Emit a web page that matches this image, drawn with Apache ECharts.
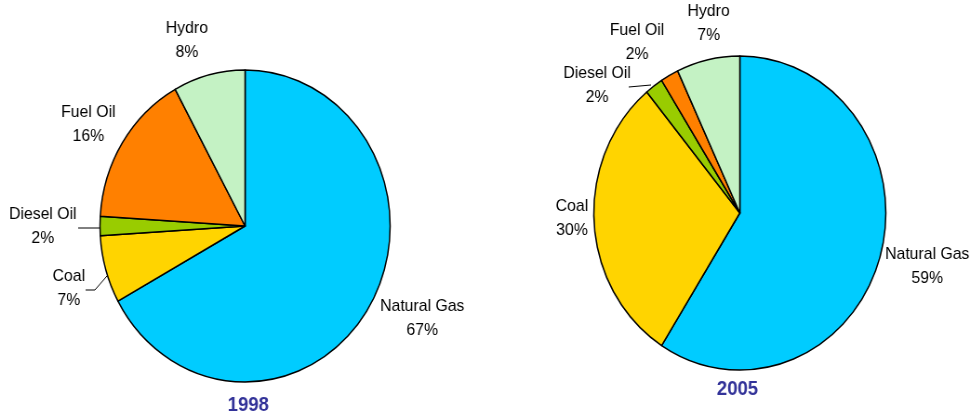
<!DOCTYPE html>
<html>
<head>
<meta charset="utf-8">
<script src="https://cdn.jsdelivr.net/npm/echarts@6/dist/echarts.min.js"></script>
<style>
  html, body { margin: 0; padding: 0; background: #fff; overflow: hidden; }
  #wrap { width: 971px; height: 418px; overflow: hidden; }
  /* the original pies are slightly squashed sideways, text included */
  #chart { width: 1044px; height: 418px; transform: scaleX(0.93); transform-origin: 0 0; }
</style>
</head>
<body>
<div id="wrap"><div id="chart"></div></div>
<script>
// data
const categories = ['Natural Gas', 'Coal', 'Diesel Oil', 'Fuel Oil', 'Hydro']
const share1998 = [67, 7, 2, 16, 8]
const share2005 = [59, 30, 2, 2, 7]
const years = ['1998', '2005']

const colors = ['#00CCFF', '#FFD400', '#99CC00', '#FF8000', '#C4F2C4']

// label placement (unscaled chart px), one entry per category
const labelPos1998 = [[454, 318], [74, 288], [46, 226], [95, 124], [201, 40]]
const labelPos2005 = [[997, 266], [615, 218], [642, 85], [685, 42], [762, 23]]
const leader1998 = {
  1: [[92, 290], [102, 290], [115, 276]],
  2: [[84, 228], [96, 228], [108, 228]]
}
const leader2005 = {
  2: [[676, 87], [688, 86], [700, 85]]
}

const makeSeries = (values, center, radius, pos, leaders) => {
  return {
    type: 'pie',
    center: center,
    radius: radius,
    startAngle: 90,
    clockwise: true,
    avoidLabelOverlap: false,
    animation: false,
    itemStyle: { borderColor: '#000', borderWidth: 1.5 },
    label: {
      show: true,
      color: '#000',
      fontFamily: 'Liberation Sans, Arial, sans-serif',
      fontSize: 17,
      lineHeight: 24,
      align: 'center',
      formatter: (p) => p.name + '\n' + p.value + '%'
    },
    labelLine: { show: true, lineStyle: { color: '#000', width: 1 } },
    labelLayout: (params) => {
      const i = params.dataIndex
      const res = { x: pos[i][0], y: pos[i][1], align: 'center', verticalAlign: 'middle' }
      if (leaders[i]) res.labelLinePoints = leaders[i]
      return res
    },
    data: categories.map((name, i) => ({
      name: name,
      value: values[i],
      itemStyle: { color: colors[i] },
      labelLine: { show: !!leaders[i] }
    }))
  }
}

const titleFont = { color: '#333399', fontSize: 20, fontWeight: 'bold', fontFamily: 'Liberation Sans, Arial, sans-serif' }

const chart = echarts.init(document.getElementById('chart'))
chart.setOption({
  backgroundColor: '#fff',
  title: [
    { text: years[0], left: 267, top: 395, textAlign: 'center', padding: 0, textStyle: titleFont },
    { text: years[1], left: 793, top: 379, textAlign: 'center', padding: 0, textStyle: titleFont }
  ],
  series: [
    makeSeries(share1998, [263.5, 226], 156, labelPos1998, leader1998),
    makeSeries(share2005, [795.5, 213], 157, labelPos2005, leader2005)
  ]
})
</script>
</body>
</html>
